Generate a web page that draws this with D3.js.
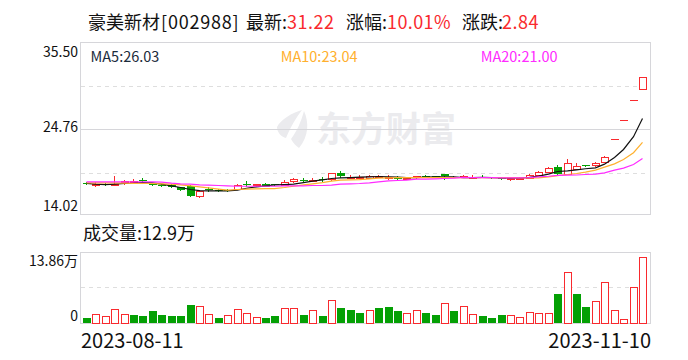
<!DOCTYPE html>
<html lang="zh">
<head>
<meta charset="utf-8">
<title>豪美新材</title>
<script src="https://d3js.org/d3.v7.min.js"></script>
<style>
    html, body { margin: 0; padding: 0; background: #fff; }
    svg { display: block; }
    text { font-family: "Noto Sans CJK SC", "Noto Sans", sans-serif; }
</style>
</head>
<body>
<svg id="chart" width="688" height="360"></svg>
<script>
    // Values
    var dates = ["08-11","08-14","08-15","08-16","08-17","08-18","08-21","08-22","08-23","08-24",
        "08-25","08-28","08-29","08-30","08-31","09-01","09-04","09-05","09-06","09-07",
        "09-08","09-11","09-12","09-13","09-14","09-15","09-18","09-19","09-20","09-21",
        "09-22","09-25","09-26","09-27","09-28","10-09","10-10","10-11","10-12","10-13",
        "10-16","10-17","10-18","10-19","10-20","10-23","10-24","10-25","10-26","10-27",
        "10-30","10-31","11-01","11-02","11-03","11-06","11-07","11-08","11-09","11-10"];
    var open = [17.91,17.74,17.83,17.74,18.04,18.04,18.29,17.83,17.70,17.66,
        17.37,17.62,16.36,17.12,17.07,17.03,17.24,17.79,17.79,17.87,
        17.79,17.70,18.16,18.37,18.25,18.41,18.37,19.13,18.58,18.62,
        18.58,18.71,18.62,18.58,18.41,18.62,18.79,18.79,19.04,18.75,
        18.67,18.63,18.75,18.71,18.59,18.46,18.50,18.59,18.88,19.21,
        19.88,19.00,19.67,20.14,20.09,20.60,23.46,25.80,28.38,29.68];
    var close = [17.83,17.87,17.74,17.87,18.20,18.20,18.16,17.70,17.62,17.45,
        16.95,16.32,16.95,17.03,16.99,16.95,17.74,17.70,17.87,17.53,
        17.62,18.12,18.41,18.29,18.37,18.33,19.13,18.79,18.71,18.71,
        18.83,18.83,18.71,18.41,18.58,18.79,18.66,18.71,18.79,18.66,
        18.79,18.75,18.63,18.59,18.42,18.59,18.59,19.00,19.26,19.76,
        19.00,20.39,20.09,19.97,20.39,21.22,23.46,25.80,28.38,31.22];
    var high = [18.08,18.04,17.95,18.79,18.37,18.46,18.50,17.95,17.87,17.87,
        17.41,17.66,17.03,17.37,17.24,17.20,17.79,18.16,17.87,17.91,
        17.83,18.29,18.62,18.54,18.62,18.66,19.25,19.42,18.92,18.92,
        18.96,18.92,18.96,18.79,18.62,18.83,18.96,18.83,19.08,18.83,
        18.92,18.88,18.92,18.75,18.63,18.63,18.63,19.05,19.42,19.93,
        20.18,20.93,20.43,20.18,20.55,21.31,23.46,25.80,28.38,31.22];
    var low = [17.66,17.37,17.58,17.70,17.66,17.87,17.95,17.53,17.45,17.28,
        16.91,16.19,16.07,16.82,16.82,16.82,17.12,17.45,17.45,17.49,
        17.53,17.53,17.95,18.12,18.04,18.12,18.16,18.62,18.41,18.50,
        18.54,18.62,18.37,18.37,18.37,18.41,18.62,18.66,18.29,18.58,
        18.50,18.50,18.54,18.42,18.33,18.17,18.42,18.54,18.84,19.13,
        18.92,18.92,19.59,19.93,19.88,20.55,23.46,25.80,28.38,29.68];
    var ma5 = [17.87,17.79,17.74,17.79,17.87,17.91,17.99,17.95,17.79,17.58,
        17.37,17.12,16.99,16.95,16.95,16.95,17.03,17.28,17.45,17.58,
        17.70,17.74,17.79,17.99,18.16,18.33,18.50,18.58,18.62,18.66,
        18.71,18.75,18.71,18.66,18.62,18.62,18.66,18.71,18.71,18.71,
        18.62,18.62,18.63,18.62,18.58,18.55,18.54,18.63,18.80,19.05,
        19.38,19.46,19.59,19.72,19.84,20.30,21.14,22.14,23.74,26.03];
    var ma10 = [17.95,17.95,17.95,17.95,17.91,17.87,17.87,17.87,17.83,17.79,
        17.70,17.58,17.45,17.32,17.16,17.03,17.12,17.16,17.20,17.24,
        17.24,17.37,17.53,17.70,17.83,17.99,18.16,18.29,18.33,18.37,
        18.46,18.54,18.58,18.62,18.62,18.62,18.62,18.62,18.62,18.62,
        18.62,18.62,18.62,18.62,18.62,18.60,18.58,18.56,18.58,18.70,
        18.85,19.00,19.13,19.30,19.55,19.93,20.34,20.89,21.73,23.04];
    var ma20 = [18.08,18.08,18.08,18.08,18.08,18.08,18.08,18.08,18.04,17.91,
        17.83,17.79,17.70,17.66,17.62,17.58,17.53,17.53,17.53,17.53,
        17.53,17.58,17.58,17.58,17.62,17.62,17.66,17.79,17.83,17.87,
        17.95,18.08,18.20,18.25,18.29,18.41,18.41,18.46,18.50,18.54,
        18.63,18.60,18.60,18.60,18.58,18.58,18.58,18.60,18.70,18.78,
        18.88,18.92,18.94,19.00,19.05,19.21,19.55,19.80,20.26,21.00];
    // 万手
    var volume = [1.16,1.88,1.49,2.85,1.88,1.74,1.55,2.52,1.74,1.55,
        1.36,3.49,3.43,1.88,1.16,1.69,2.85,2.00,1.22,1.16,
        1.36,2.97,2.97,1.74,2.58,1.55,4.52,3.10,2.71,1.94,
        2.58,3.10,3.29,2.52,2.00,2.58,2.13,1.74,3.93,2.33,
        3.35,1.88,1.36,0.97,1.74,1.69,1.22,2.19,2.00,2.00,
        5.81,10.02,5.81,3.29,4.32,8.08,2.58,0.83,7.04,12.90];
    var volumeUp = [0,1,1,1,1,0,0,0,0,0,0,0,1,1,0,1,1,1,1,0,
        0,1,1,0,1,0,1,0,0,0,1,0,0,0,1,1,0,0,1,0,
        1,1,0,0,0,1,1,1,1,1,0,1,0,0,1,1,1,1,1,1];
    var priceTicks = [35.50, 24.76, 14.02];
    var priceTickLabels = ["35.50", "24.76", "14.02"];
    var volumeTicks = [13.86, 0];
    var volumeTickLabels = ["13.86万", "0"];
    var firstDate = "2023-08-11", lastDate = "2023-11-10";

    var red = "#f92a2e", green = "#04a004", frameColor = "#d6d6da", dashColor = "#dedede";

    var svg = d3.select("#chart");

    var xScale = d3.scaleBand().domain(dates).range([82.1, 647.7]).paddingInner(0.16).paddingOuter(0.08);
    var yPrice = d3.scaleLinear().domain([14.02, 35.50]).range([214.2, 43]);
    var yVolume = d3.scaleLinear().domain([0, 13.86]).range([323.5, 252]);

    // Watermark sits under everything
    var mark = svg.append("g").attr("fill", "#ebebee");
    mark.append("path").attr("d", "M277 127 C281 119 292 113 302 110 C296 118 291 126 286 138 C282 137 277 133 277 127 Z");
    mark.append("path").attr("d", "M304 111 C309 122 309 136 299 148 C296 146 293 143 291 139 C297 131 301 122 304 111 Z");
    mark.append("text").attr("x", 316).attr("y", 142).attr("font-size", 35).attr("font-weight", 700)
        .text("东方财富");

    // Frames
    function frame(y0, y1) {
        svg.append("rect").attr("x", 80.5).attr("y", y0).attr("width", 570).attr("height", y1 - y0)
            .attr("fill", "none").attr("stroke", frameColor).attr("stroke-width", 1);
    }
    function hline(y, dashed) {
        svg.append("line").attr("x1", 81).attr("x2", dashed ? 648 : 650).attr("y1", y).attr("y2", y)
            .attr("stroke", dashed ? dashColor : frameColor)
            .attr("stroke-dasharray", dashed ? "4,4" : null);
    }
    frame(42.5, 214.5);
    frame(252.5, 323.5);
    hline(86.5, true);
    hline(129.5, false);
    hline(173.5, true);
    hline(287.5, true);

    // Candles
    var candles = svg.append("g").attr("shape-rendering", "crispEdges");
    dates.forEach(function(d, i) {
        var up = close[i] >= open[i];
        var color = up ? red : green;
        var left = Math.round(xScale(d));
        var mid = left + 3.5;
        var top = yPrice(Math.max(open[i], close[i]));
        var bottom = yPrice(Math.min(open[i], close[i]));
        if (open[i] == close[i]) {
            // limit-up day, only a dash
            candles.append("line").attr("x1", left).attr("x2", left + 8)
                .attr("y1", Math.round(top) + 0.5).attr("y2", Math.round(top) + 0.5)
                .attr("stroke", color);
            return;
        }
        candles.append("line").attr("x1", mid).attr("x2", mid)
            .attr("y1", yPrice(high[i])).attr("y2", yPrice(low[i]))
            .attr("stroke", color);
        if (up) {
            candles.append("rect").attr("x", left + 0.5).attr("y", Math.round(top) + 0.5)
                .attr("width", 7).attr("height", Math.max(Math.round(bottom - top), 1))
                .attr("fill", "#fff").attr("stroke", color);
        } else {
            candles.append("rect").attr("x", left).attr("y", Math.round(top))
                .attr("width", 8).attr("height", Math.max(Math.round(bottom - top), 1))
                .attr("fill", color);
        }
    });

    // Moving averages
    var lineFor = function(values) {
        return d3.line()
            .x(function(v, i) { return Math.round(xScale(dates[i])) + 3.5; })
            .y(function(v) { return yPrice(v); })(values);
    };
    [[ma5, "#111"], [ma10, "#ffb02e"], [ma20, "#ff2cff"]].forEach(function(s) {
        svg.append("path").attr("d", lineFor(s[0])).attr("fill", "none")
            .attr("stroke", s[1]).attr("stroke-width", 1.2);
    });

    // Volume
    var bars = svg.append("g").attr("shape-rendering", "crispEdges");
    dates.forEach(function(d, i) {
        var left = Math.round(xScale(d));
        var top = Math.round(yVolume(volume[i]));
        if (volumeUp[i]) {
            bars.append("rect").attr("x", left + 0.5).attr("y", top + 0.5)
                .attr("width", 7).attr("height", 323 - top)
                .attr("fill", "#fff").attr("stroke", red);
        } else {
            bars.append("rect").attr("x", left).attr("y", top)
                .attr("width", 8).attr("height", 323 - top)
                .attr("fill", green);
        }
    });

    // Axis labels
    var priceOffsets = [9, -2, -8];
    priceTicks.forEach(function(t, i) {
        svg.append("text").attr("x", 78).attr("y", yPrice(t) + priceOffsets[i] + 5)
            .attr("text-anchor", "end").attr("font-size", 14).attr("fill", "#111")
            .text(priceTickLabels[i]);
    });
    var volumeOffsets = [9, -8];
    volumeTicks.forEach(function(t, i) {
        svg.append("text").attr("x", 78).attr("y", yVolume(t) + volumeOffsets[i] + 5)
            .attr("text-anchor", "end").attr("font-size", 14).attr("fill", "#111")
            .text(volumeTickLabels[i]);
    });
    svg.append("text").attr("x", 81).attr("y", 348).attr("font-size", 20).attr("fill", "#111").text(firstDate);
    svg.append("text").attr("x", 651).attr("y", 348).attr("text-anchor", "end").attr("font-size", 20).attr("fill", "#111").text(lastDate);

    // Header
    function label(x, y, size, color, s, spacing) {
        svg.append("text").attr("x", x).attr("y", y).attr("font-size", size).attr("fill", color)
            .attr("letter-spacing", spacing || 0).text(s);
    }
    label(88, 29, 18, "#111", "豪美新材");
    label(161, 29, 18, "#111", "[002988]", 0.8);
    label(246, 29, 18, "#111", "最新:");
    label(287, 29, 18, red, "31.22", 0.5);
    label(346, 29, 18, "#111", "涨幅:");
    label(387, 29, 18, red, "10.01%", 0.4);
    label(462, 29, 18, "#111", "涨跌:");
    label(502, 29, 18, red, "2.84", 0.5);
    label(90.5, 62, 14.5, "#1c2c3c", "MA5:26.03");
    label(280.7, 62, 14.5, "#ffb02e", "MA10:23.04");
    label(480.7, 62, 14.5, "#ff2cff", "MA20:21.00");
    label(83, 240, 18, "#111", "成交量:12.9万");
</script>
</body>
</html>
